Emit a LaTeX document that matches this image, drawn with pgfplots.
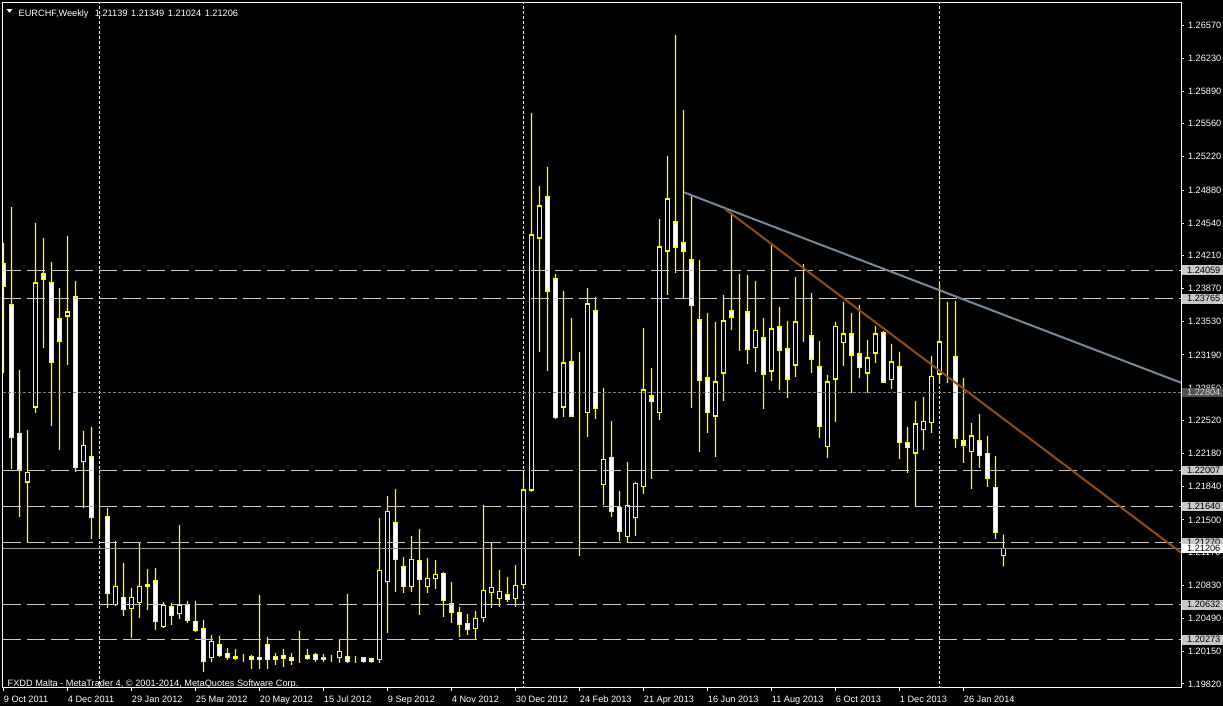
\documentclass[border=0pt]{standalone}
\usepackage{fontspec}
\setmainfont{Liberation Sans}
\usepackage{pgfplots}
\usepackage{pgfplotstable}
\pgfplotsset{compat=1.18}
\definecolor{cyell}{RGB}{255,255,0}
\definecolor{hline}{RGB}{200,200,200}
\definecolor{dline}{RGB}{128,128,128}
\definecolor{pline}{RGB}{150,150,150}
\definecolor{trendgrey}{RGB}{119,136,153}
\definecolor{trendbrown}{RGB}{150,75,20}
\definecolor{boxgrey}{RGB}{200,200,200}
\definecolor{boxdark}{RGB}{80,80,80}
\newcommand\mtfont{\fontsize{4.6pt}{5.5pt}\selectfont}

\pgfplotstableread{
i O H L C
0 1.24123 1.24338 1.23007 1.23897
1 1.23703 1.24706 1.22023 1.22341
2 1.22382 1.23037 1.21532 1.22013
3 1.21890 1.22423 1.21266 1.21983
4 1.22658 1.24543 1.22597 1.23928
5 1.24020 1.24389 1.23263 1.23969
6 1.23928 1.24143 1.22464 1.23119
7 1.23559 1.23877 1.22218 1.23334
8 1.23590 1.24409 1.23088 1.23631
9 1.23785 1.23949 1.21993 1.22034
10 1.22095 1.22413 1.21624 1.22259
11 1.22146 1.22454 1.21307 1.21522
12 1.21460 1.21962 1.21317 1.21460
13 1.21532 1.21624 1.20600 1.20743
14 1.20631 1.21286 1.20621 1.20815
15 1.20703 1.21061 1.20518 1.20580
16 1.20590 1.20805 1.20293 1.20703
17 1.20651 1.21266 1.20498 1.20815
18 1.20836 1.20999 1.20580 1.20815
19 1.20877 1.21010 1.20375 1.20457
20 1.20406 1.20662 1.20395 1.20621
21 1.20610 1.20651 1.20426 1.20518
22 1.20539 1.21450 1.20487 1.20621
23 1.20631 1.20672 1.20447 1.20467
24 1.20457 1.20672 1.20354 1.20365
25 1.20385 1.20477 1.19945 1.20047
26 1.20088 1.20324 1.20047 1.20252
27 1.20221 1.20313 1.20098 1.20109
28 1.20129 1.20190 1.20068 1.20088
29 1.20098 1.20180 1.20068 1.20078
30 1.20088 1.20129 1.20047 1.20088
31 1.20098 1.20119 1.19975 1.20068
32 1.20088 1.20733 1.19975 1.20068
33 1.20221 1.20303 1.19975 1.20068
34 1.20098 1.20139 1.20016 1.20068
35 1.20109 1.20180 1.19996 1.20078
36 1.20088 1.20139 1.20016 1.20057
37 1.20098 1.20365 1.20037 1.20098
38 1.20109 1.20180 1.20068 1.20078
39 1.20119 1.20139 1.20047 1.20068
40 1.20088 1.20129 1.20047 1.20068
41 1.20088 1.20119 1.20047 1.20088
42 1.20088 1.20272 1.20037 1.20150
43 1.20098 1.20743 1.20037 1.20047
44 1.20078 1.20109 1.20037 1.20078
45 1.20088 1.20098 1.20037 1.20047
46 1.20078 1.20088 1.20037 1.20047
47 1.20068 1.21522 1.20037 1.20979
48 1.20866 1.21747 1.20344 1.21583
49 1.21471 1.21819 1.20764 1.21092
50 1.21020 1.21122 1.20754 1.20815
51 1.20815 1.21337 1.20764 1.21092
52 1.21081 1.21409 1.20528 1.20887
53 1.20815 1.21112 1.20754 1.20897
54 1.20897 1.21092 1.20795 1.20938
55 1.20948 1.20969 1.20508 1.20672
56 1.20641 1.20866 1.20447 1.20549
57 1.20549 1.20610 1.20303 1.20426
58 1.20436 1.20539 1.20324 1.20375
59 1.20385 1.20569 1.20272 1.20487
60 1.20498 1.21655 1.20457 1.20774
61 1.20754 1.21266 1.20600 1.20805
62 1.20692 1.20989 1.20610 1.20764
63 1.20733 1.20918 1.20662 1.20682
64 1.20692 1.21040 1.20610 1.20825
65 1.20836 1.21972 1.20815 1.21808
66 1.21808 1.25669 1.21788 1.24420
67 1.24389 1.24921 1.23222 1.24717
68 1.24809 1.25116 1.23027 1.23846
69 1.23969 1.24020 1.22535 1.22546
70 1.22658 1.23846 1.22556 1.23109
71 1.23119 1.23570 1.22556 1.22566
72 1.22781 1.23222 1.21133 1.22781
73 1.22597 1.23877 1.22351 1.23713
74 1.23641 1.23785 1.22535 1.22638
75 1.21860 1.22853 1.21655 1.22116
76 1.22136 1.22515 1.21532 1.21583
77 1.21624 1.21798 1.21286 1.21378
78 1.21327 1.22095 1.21266 1.21645
79 1.21522 1.21890 1.21337 1.21870
80 1.21839 1.23467 1.21767 1.22832
81 1.22771 1.23058 1.21921 1.22710
82 1.22597 1.24583 1.22525 1.24297
83 1.24256 1.25229 1.23805 1.24788
84 1.24553 1.26468 1.24031 1.24297
85 1.24338 1.25700 1.23764 1.24256
86 1.24164 1.24829 1.22648 1.23693
87 1.23549 1.24164 1.22198 1.22925
88 1.22955 1.23621 1.22392 1.22597
89 1.22566 1.23529 1.22146 1.22914
90 1.23006 1.23805 1.22720 1.23539
91 1.23641 1.24645 1.23447 1.23580
92 1.23590 1.24020 1.23232 1.23590
93 1.23631 1.24010 1.23099 1.23252
94 1.23263 1.23949 1.23017 1.23437
95 1.23365 1.23570 1.22638 1.22996
96 1.23027 1.24338 1.22925 1.23457
97 1.23478 1.23682 1.22832 1.23242
98 1.23252 1.23539 1.22751 1.22945
99 1.23088 1.23990 1.22966 1.23529
100 1.23611 1.24123 1.23324 1.23611
101 1.23385 1.23826 1.23007 1.23150
102 1.23068 1.23334 1.22341 1.22454
103 1.22249 1.22986 1.22136 1.22914
104 1.22945 1.23529 1.22505 1.23478
105 1.23314 1.23734 1.23078 1.23406
106 1.23406 1.23621 1.22802 1.23191
107 1.23201 1.23703 1.22955 1.23058
108 1.23006 1.23344 1.22802 1.23160
109 1.23211 1.23488 1.23109 1.23406
110 1.23416 1.23437 1.22904 1.22914
111 1.22935 1.23303 1.22843 1.23119
112 1.23068 1.23222 1.22126 1.22290
113 1.22290 1.22454 1.21983 1.22239
114 1.22187 1.22720 1.21634 1.22484
115 1.22423 1.22761 1.22218 1.22505
116 1.22495 1.23181 1.22392 1.22966
117 1.22996 1.23918 1.22904 1.23324
118 1.23242 1.23734 1.22904 1.23242
119 1.23170 1.23744 1.22239 1.22331
120 1.22310 1.22955 1.22085 1.22269
121 1.22198 1.22495 1.21819 1.22361
122 1.22310 1.22587 1.22034 1.22157
123 1.22177 1.22361 1.21839 1.21931
124 1.21829 1.22157 1.21307 1.21368
125 1.21139 1.21349 1.21024 1.21206
}\candles

\begin{document}
\begin{tikzpicture}
\fill[black] (0pt,0pt) rectangle (611.5pt,353pt);
\pgfplotsset{mtaxis/.style={
  at={(1.35pt,9pt)}, anchor=south west, scale only axis,
  width=589.15pt, height=342.85pt,
  xmin=-0.1, xmax=147.19, ymin=1.19779, ymax=1.26803}}
% base axis: frame, ticks, separators
\begin{axis}[mtaxis,
  axis line style={white, line width=0.5pt},
  xtick={0,8,...,120},
  xticklabels={9 Oct 2011,4 Dec 2011,29 Jan 2012,25 Mar 2012,20 May 2012,15 Jul 2012,9 Sep 2012,4 Nov 2012,30 Dec 2012,24 Feb 2013,21 Apr 2013,16 Jun 2013,11 Aug 2013,6 Oct 2013,1 Dec 2013,26 Jan 2014},
  ytick={1.26570,1.26230,1.25890,1.25560,1.25220,1.24880,1.24540,1.24210,1.23870,1.23530,1.23190,1.22850,1.22520,1.22180,1.21840,1.21500,1.21170,1.20830,1.20490,1.20150,1.19820},
  yticklabels={1.26570,1.26230,1.25890,1.25560,1.25220,1.24880,1.24540,1.24210,1.23870,1.23530,1.23190,1.22850,1.22520,1.22180,1.21840,1.21500,1.21170,1.20830,1.20490,1.20150,1.19820},
  xtick pos=left, ytick pos=right, yticklabel pos=right,
  tick align=outside, major tick length=1.5pt,
  tick style={white, line width=0.5pt},
  xticklabel style={font=\mtfont, text=white, anchor=north west, inner sep=0pt, text height=3.4pt, text depth=0pt, yshift=-2.1pt},
  yticklabel style={font=\mtfont, text=white, anchor=west, inner sep=0pt, xshift=1.8pt},
]
\addplot[white, line width=0.5pt, dash pattern=on 1.5pt off 1pt] coordinates {(12,1.19) (12,1.27)};
\addplot[white, line width=0.5pt, dash pattern=on 1.5pt off 1pt] coordinates {(65,1.19) (65,1.27)};
\addplot[white, line width=0.5pt, dash pattern=on 1.5pt off 1pt] coordinates {(117,1.19) (117,1.27)};
\end{axis}
% wicks: low to high
\begin{axis}[mtaxis, hide axis, ybar stacked, bar width=0.16]
\addplot[draw=none, fill=none] table[x=i, y=L] {\candles};
\addplot[draw=none, fill=cyell] table[x=i, y expr={\thisrow{H}-\thisrow{L}}] {\candles};
\end{axis}
% candle bodies
\begin{axis}[mtaxis, hide axis, ybar stacked, bar width=0.45]
\addplot[draw=none, fill=none] table[x=i, y expr={min(\thisrow{O},\thisrow{C})}] {\candles};
\addplot[draw=cyell, fill=black, line width=0.6pt] table[x=i, y expr={max(\thisrow{C}-\thisrow{O},0)}] {\candles};
\addplot[draw=cyell, fill=white, line width=0.6pt] table[x=i, y expr={max(\thisrow{O}-\thisrow{C},0)}] {\candles};
\end{axis}
% objects: horizontal lines and trend lines
\begin{axis}[mtaxis, hide axis]
\addplot[hline, line width=0.5pt, dash pattern=on 9pt off 3pt] coordinates {(-0.1,1.24059) (147.19,1.24059)};
\addplot[hline, line width=0.5pt, dash pattern=on 9pt off 3pt] coordinates {(-0.1,1.23765) (147.19,1.23765)};
\addplot[hline, line width=0.5pt, dash pattern=on 9pt off 3pt] coordinates {(-0.1,1.22007) (147.19,1.22007)};
\addplot[hline, line width=0.5pt, dash pattern=on 9pt off 3pt] coordinates {(-0.1,1.21640) (147.19,1.21640)};
\addplot[hline, line width=0.5pt, dash pattern=on 9pt off 3pt] coordinates {(-0.1,1.21270) (147.19,1.21270)};
\addplot[hline, line width=0.5pt, dash pattern=on 9pt off 3pt] coordinates {(-0.1,1.20632) (147.19,1.20632)};
\addplot[hline, line width=0.5pt, dash pattern=on 9pt off 3pt] coordinates {(-0.1,1.20273) (147.19,1.20273)};
\addplot[dline, line width=0.5pt, dash pattern=on 1.5pt off 1pt] coordinates {(-0.1,1.22804) (147.19,1.22804)};
\addplot[pline, line width=0.5pt] coordinates {(-0.1,1.21206) (147.19,1.21206)};
\addplot[trendgrey, line width=1pt] coordinates {(85.06,1.24856) (147.19,1.22906)};
\addplot[trendbrown, line width=1pt] coordinates {(90.19,1.24686) (147.19,1.21166)};
\end{axis}
% price labels of the lines
\tikzset{pbox/.style={anchor=west, inner xsep=2.5pt, inner ysep=0pt, minimum height=4.8pt, font=\mtfont}}
\node[pbox, fill=boxgrey, text=black] at (590.85pt,217.93pt) {1.24059};
\node[pbox, fill=boxgrey, text=black] at (590.85pt,203.58pt) {1.23765};
\node[pbox, fill=boxdark, text=white!85!black] at (590.85pt,156.67pt) {1.22804};
\node[pbox, fill=boxgrey, text=black] at (590.85pt,117.76pt) {1.22007};
\node[pbox, fill=boxgrey, text=black] at (590.85pt,99.84pt) {1.21640};
\node[pbox, fill=boxgrey, text=black] at (590.85pt,81.78pt) {1.21270};
\node[pbox, fill=white, text=black] at (590.85pt,78.66pt) {1.21206};
\node[pbox, fill=boxgrey, text=black] at (590.85pt,50.64pt) {1.20632};
\node[pbox, fill=boxgrey, text=black] at (590.85pt,33.11pt) {1.20273};
% header and footer
\fill[white] (3.35pt,348.4pt) -- (6.15pt,348.4pt) -- (4.75pt,346.6pt) -- cycle;
\node[anchor=mid west, inner sep=0pt, text=white, font=\mtfont] at (9.15pt,347.4pt) {EURCHF,Weekly\hspace{3.2pt}1.21139\hspace{1.8pt}1.21349\hspace{1.8pt}1.21024\hspace{1.8pt}1.21206};
\node[anchor=mid west, inner sep=0pt, text=white, font=\mtfont] at (3.65pt,12.5pt) {FXDD Malta - MetaTrader 4, \textcopyright{} 2001-2014, MetaQuotes Software Corp.};
\pgfresetboundingbox
\useasboundingbox (0pt,0pt) rectangle (611.5pt,353pt);
\end{tikzpicture}
\end{document}
